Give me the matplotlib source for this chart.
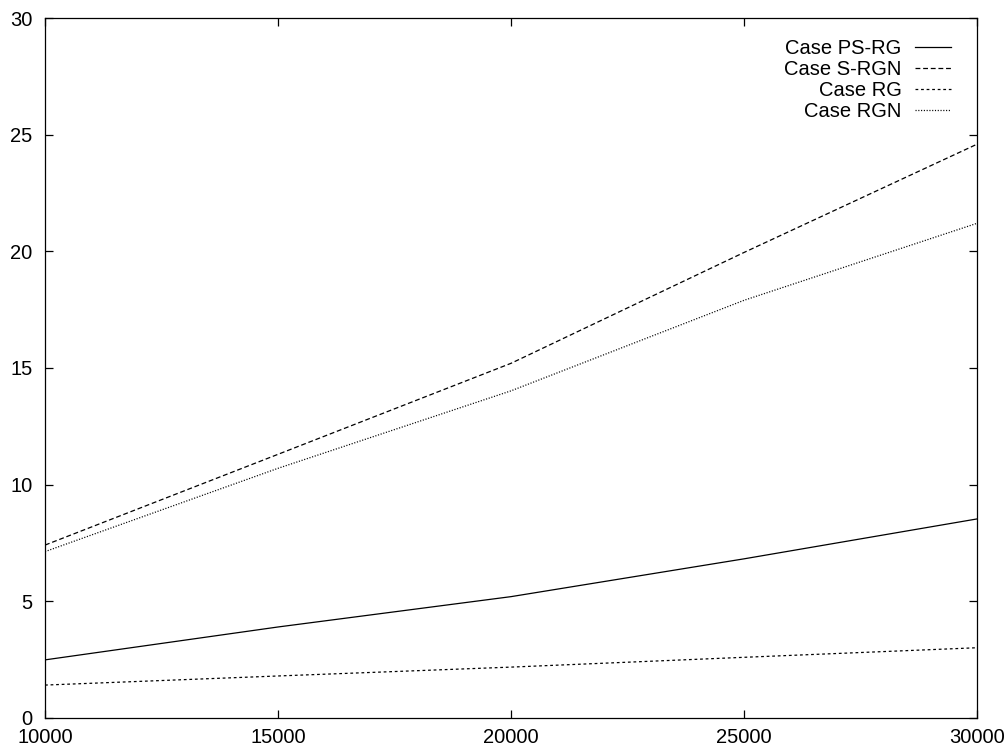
import matplotlib
matplotlib.use('Agg')
import matplotlib.pyplot as plt

# data
x = [10000, 15000, 20000, 25000, 30000]
ps_rg = [2.49, 3.90, 5.20, 6.82, 8.53]
s_rgn = [7.41, 11.30, 15.20, 19.95, 24.59]
rg = [1.41, 1.80, 2.18, 2.60, 3.01]
rgn = [7.13, 10.70, 14.02, 17.90, 21.20]
labels = ['Case PS-RG', 'Case S-RGN', 'Case RG', 'Case RGN']

plt.rcParams['font.family'] = ['Liberation Sans', 'DejaVu Sans']
plt.rcParams['font.size'] = 14.5
plt.rcParams['lines.scale_dashes'] = False

fig = plt.figure(figsize=(10.05, 7.5), dpi=100)
ax = fig.add_axes([0.0448, 0.0427, 0.9273, 0.9333])

lw = 0.9
ax.plot(x, ps_rg, color='black', lw=lw, linestyle='-', label=labels[0])
ax.plot(x, s_rgn, color='black', lw=lw, linestyle=(0, (3.5, 2.0)), label=labels[1])
ax.plot(x, rg, color='black', lw=lw, linestyle=(0, (2.0, 2.0)), label=labels[2])
ax.plot(x, rgn, color='black', lw=lw, linestyle=(0, (0.8, 1.2)), label=labels[3])

ax.set_xlim(10000, 30000)
ax.set_ylim(0, 30)
ax.set_xticks([10000, 15000, 20000, 25000, 30000])
ax.set_yticks([0, 5, 10, 15, 20, 25, 30])
ax.tick_params(direction='in', length=6, width=0.9, top=True, right=True, labelsize=14.5)
ax.tick_params(axis='x', pad=7)
ax.tick_params(axis='y', pad=9)
for s in ax.spines.values():
    s.set_linewidth(0.9)

leg = ax.legend(loc='upper right', frameon=False, markerfirst=False,
                handlelength=1.8, handletextpad=0.65, labelspacing=0.1,
                borderpad=0, borderaxespad=0, bbox_to_anchor=(0.972, 0.97),
                fontsize=14.5)
# 文字右对齐，像gnuplot那样
for col in leg._legend_handle_box.get_children():
    col.align = 'right'

fig.savefig('out.png', dpi=100)
